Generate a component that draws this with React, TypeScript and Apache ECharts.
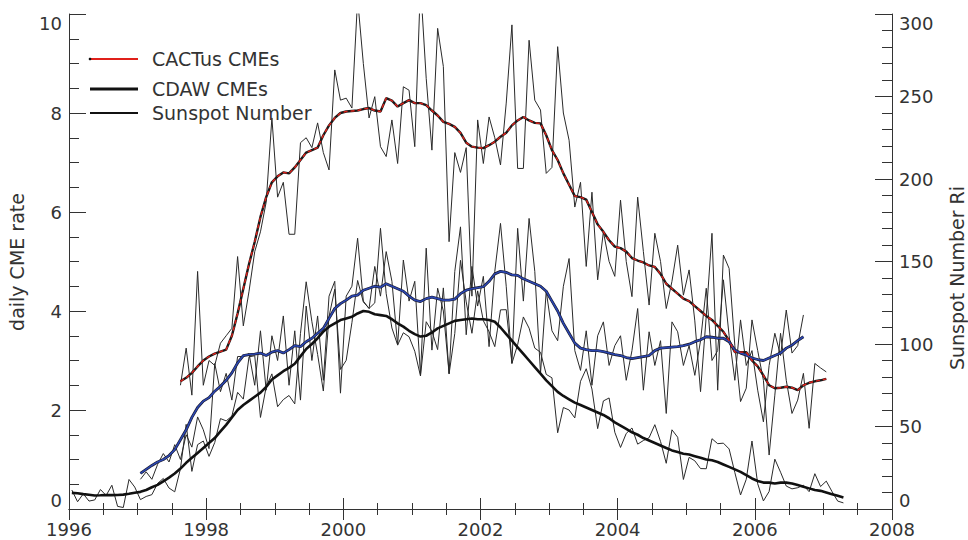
import React, { useEffect, useRef } from "react";
import * as echarts from "echarts";

// ---- Data (monthly values) ----
// Sunspot number Ri, monthly, Jan 1996 .. Apr 2007
const sunspotStart = [1996, 1];
const sunspotMonthly = [
  11.5, 4.4, 9.2, 4.8, 5.5, 11.8, 8.2, 14.4, 1.6, 0.9, 17.9, 13.3,
  5.7, 7.6, 8.7, 15.5, 18.5, 12.7, 10.4, 24.4, 51.3, 22.8, 39.0, 41.2,
  31.9, 40.3, 54.8, 53.4, 56.3, 70.7, 66.6, 92.2, 92.9, 55.5, 74.0, 81.9,
  62.0, 66.3, 68.8, 63.7, 106.4, 137.7, 113.5, 93.7, 71.5, 116.7, 133.2, 84.6,
  90.1, 112.9, 138.5, 125.5, 121.6, 124.9, 170.1, 130.5, 109.7, 99.4, 106.8, 104.4,
  95.6, 80.6, 113.5, 107.7, 96.6, 134.0, 81.8, 106.4, 150.7, 125.5, 106.5, 132.2,
  114.1, 107.4, 98.4, 120.7, 120.8, 88.3, 99.6, 116.4, 109.6, 97.5, 95.0, 81.6,
  79.5, 46.2, 61.5, 60.0, 55.2, 77.4, 85.0, 72.7, 48.7, 65.5, 67.3, 46.5,
  37.3, 45.8, 49.1, 39.3, 41.5, 43.2, 51.1, 40.9, 27.7, 48.0, 43.5, 17.9,
  31.3, 29.2, 24.5, 24.4, 42.6, 39.6, 39.9, 36.4, 22.1, 8.5, 18.0, 41.2,
  15.3, 4.9, 10.6, 30.2, 22.3, 13.9, 12.2, 12.9, 14.4, 10.5, 21.4, 13.6,
  16.9, 10.6, 4.8, 3.7,
];
const sunspotSmoothed = [
  9.8, 9.5, 9.0, 8.6, 8.2, 8.3, 8.5, 8.4, 8.5, 8.7, 9.2, 9.9,
  10.4, 11.5, 13.2, 14.6, 16.8, 19.0, 21.5, 24.5, 28.0, 31.0, 34.0, 37.0,
  40.0, 43.0, 47.0, 51.0, 55.5, 60.0, 63.0, 65.5, 68.0, 70.5, 74.0, 78.5,
  81.0, 83.5, 85.5, 88.0, 92.5, 97.0, 100.0, 103.5, 107.5, 110.5, 112.5, 114.5,
  115.5, 116.5, 118.5, 120.0, 119.5, 118.0, 117.5, 117.0, 115.0, 112.5, 110.5, 108.0,
  106.0, 104.5, 105.0, 107.0, 109.5, 111.0, 112.5, 114.0, 114.5, 115.0, 115.5, 115.0,
  115.0, 114.5, 113.5, 110.0, 106.0, 102.0, 98.0, 94.0, 90.0, 86.0, 82.0, 78.0,
  74.5, 71.0, 68.5, 66.5, 64.5, 63.0, 61.5, 60.0, 58.5, 57.0, 55.0, 52.5,
  50.5, 48.5, 46.5, 45.0, 43.0, 41.5, 40.0, 38.5, 37.0, 35.5, 34.5, 33.5,
  33.0, 32.0, 31.0, 30.0, 29.5, 28.5, 27.0, 25.5, 24.0, 22.5, 20.5, 18.5,
  17.0, 16.0, 16.0, 15.5, 16.0, 16.0, 15.5, 14.5, 13.5, 12.5, 11.5, 11.0,
  10.0, 9.0, 8.0, 7.0,
];

// CACTus daily CME rate, Aug 1997 .. Jan 2007
const cactusStart = [1997, 8];
const cactusMonthly = [
  2.5, 3.25, 2.3, 4.8, 2.5,
  3.0, 2.9, 3.35, 3.5, 3.65, 5.1, 3.7, 4.4, 5.2, 5.6, 6.2, 7.9,
  6.3, 6.6, 5.55, 5.55, 7.4, 7.5, 7.3, 7.8, 7.2, 6.85, 8.87, 8.26,
  8.3, 8.1, 10.3, 9.0, 7.9, 8.33, 7.32, 7.12, 7.86, 6.98, 8.53, 8.46,
  7.32, 10.6, 8.7, 7.25, 9.71, 8.94, 5.4, 7.2, 6.8, 7.3, 4.3, 7.86,
  6.98, 7.92, 7.5, 6.95, 8.2, 9.78, 6.88, 6.88, 9.47, 8.26, 8.06, 6.78,
  6.9, 9.34, 8.0, 7.45, 6.1, 6.6, 4.9, 6.4, 4.63, 5.6, 5.0, 4.7,
  6.24, 5.0, 4.29, 6.3, 5.2, 4.12, 5.57, 5.0, 4.05, 4.6, 5.33, 4.32,
  4.83, 3.8, 2.37, 3.9, 5.57, 2.4, 5.13, 4.86, 3.3, 2.17, 2.44, 3.82,
  3.2, 2.6, 1.09, 2.3, 3.55, 2.6, 1.93, 2.2, 2.74, 1.63, 2.94, 2.85,
  2.77,
];
const cactusSmoothed = [
  2.58, 2.65, 2.75, 2.88, 3.0,
  3.08, 3.14, 3.18, 3.22, 3.5, 3.95, 4.45, 4.95, 5.4, 5.9, 6.3, 6.6,
  6.72, 6.8, 6.78, 6.9, 7.05, 7.2, 7.25, 7.3, 7.55, 7.75, 7.9, 8.0,
  8.03, 8.04, 8.05, 8.08, 8.1, 8.05, 8.03, 8.3, 8.25, 8.13, 8.2, 8.26,
  8.2, 8.2, 8.16, 8.05, 7.95, 7.82, 7.78, 7.72, 7.6, 7.4, 7.32, 7.3,
  7.29, 7.35, 7.42, 7.52, 7.6, 7.75, 7.85, 7.92, 7.85, 7.8, 7.79, 7.55,
  7.25, 7.05, 6.78, 6.55, 6.32, 6.3, 6.25, 6.0, 5.75, 5.6, 5.43, 5.3,
  5.27, 5.2, 5.07, 5.02, 4.98, 4.92, 4.89, 4.75, 4.55, 4.45, 4.35, 4.25,
  4.2, 4.1, 4.0, 3.9, 3.82, 3.7, 3.58, 3.4, 3.17, 3.17, 3.17, 3.0,
  2.88, 2.7, 2.5, 2.44, 2.45, 2.47, 2.45, 2.4, 2.5, 2.55, 2.58, 2.6,
  2.63,
];

// CDAW daily CME rate, Jan 1997 .. Sep 2006
const cdawStart = [1997, 1];
const cdawMonthly = [
  0.6, 0.75, 0.6, 0.9, 1.12, 0.95, 1.3, 1.0, 1.5, 1.25, 1.86, 1.6,
  1.22, 2.94, 2.37, 2.74, 2.2, 3.08, 3.08, 3.14, 2.5, 3.6, 2.4, 3.5,
  3.0, 3.9, 2.5, 3.6, 2.2, 4.1, 3.0, 3.9, 2.6, 4.3, 4.6, 2.34,
  4.3, 4.5, 5.47, 4.2, 4.05, 4.9, 4.3, 5.2, 4.6, 3.31, 5.03, 4.2,
  4.6, 2.71, 5.27, 3.21, 4.46, 4.0, 2.74, 4.8, 5.7, 3.52, 4.9, 4.1,
  4.7, 3.28, 4.8, 5.77, 4.5, 2.94, 5.67, 4.2, 5.87, 4.8, 2.74, 4.4,
  3.6, 3.4, 4.5, 5.06, 3.2, 2.8, 3.6, 2.5, 3.5, 3.78, 2.9, 3.3,
  3.5, 2.6, 3.2, 4.05, 2.4, 3.58, 2.9, 3.4, 1.93, 3.78, 3.58, 2.9,
  3.3, 2.7, 3.4, 4.46, 3.0, 3.2, 4.63, 3.5, 2.6, 3.82, 2.9, 3.2,
  2.4, 1.76, 2.9, 3.55, 3.1, 4.02, 3.15, 3.3, 3.92,
];
const cdawSmoothed = [
  0.72, 0.8, 0.88, 0.95, 1.0, 1.08, 1.2, 1.4, 1.6, 1.85, 2.05, 2.18,
  2.25, 2.38, 2.48, 2.6, 2.75, 2.95, 3.1, 3.12, 3.13, 3.15, 3.1, 3.17,
  3.2, 3.15, 3.22, 3.3, 3.28, 3.38, 3.45, 3.55, 3.65, 3.85, 4.05, 4.15,
  4.22, 4.3, 4.32, 4.42, 4.46, 4.5, 4.48, 4.55, 4.5, 4.45, 4.4, 4.3,
  4.22, 4.19, 4.25, 4.28, 4.25, 4.22, 4.22, 4.24, 4.35, 4.42, 4.45, 4.47,
  4.49, 4.6, 4.75, 4.8, 4.78, 4.73, 4.72, 4.65, 4.6, 4.55, 4.5, 4.4,
  4.2, 4.0, 3.75, 3.55, 3.35, 3.25, 3.22, 3.2, 3.2, 3.18, 3.15, 3.12,
  3.1, 3.06, 3.04, 3.06, 3.08, 3.1, 3.2, 3.25, 3.26, 3.27, 3.28, 3.3,
  3.33, 3.38, 3.42, 3.48, 3.47, 3.45, 3.45, 3.38, 3.21, 3.15, 3.11, 3.05,
  3.02, 3.0, 3.05, 3.1, 3.15, 3.25, 3.31, 3.4, 3.48,
];

const xTicks = [1996, 1998, 2000, 2002, 2004, 2006, 2008];
const legendItems = ["CACTus CMEs", "CDAW CMEs", "Sunspot Number"];

function monthly(start: number[], vals: number[]) {
  return vals.map((v, i) => [start[0] + (start[1] - 1 + i + 0.5) / 12, v]);
}

const FONT = "DejaVu Sans";
const TXT = "#333";
const AX = "#333";

export default function App() {
  const ref = useRef<HTMLDivElement>(null);
  useEffect(() => {
    if (!ref.current) return;
    const chart = echarts.init(ref.current, null, { renderer: "svg" });
    const thin = (name: string, data: any, yIdx: number) => ({
      type: "line", name, data, yAxisIndex: yIdx, showSymbol: false, silent: true,
      lineStyle: { color: "#2a2a2a", width: 1 }, z: 2,
    });
    const xCommon = (pos: string, labels: boolean) => ({
      type: "value", min: xTicks[0], max: xTicks[xTicks.length - 1], interval: 2, position: pos,
      axisLine: { show: true, lineStyle: { color: AX, width: 1 } },
      axisTick: { show: true, inside: true, length: 11, lineStyle: { color: AX } },
      minorTick: { show: true, splitNumber: 4, length: 6, lineStyle: { color: AX } },
      splitLine: { show: false }, minorSplitLine: { show: false },
      axisLabel: { show: labels, margin: 11, fontSize: 18, fontFamily: FONT, color: TXT, formatter: (v: number) => String(v) },
    });
    const yCommon = (pos: string, max: number, interval: number, split: number) => ({
      type: "value", min: 0, max, interval, position: pos,
      axisLine: { show: true, lineStyle: { color: AX, width: 1 } },
      axisTick: { show: true, inside: true, length: 17, lineStyle: { color: AX } },
      minorTick: { show: true, splitNumber: split, length: 10, lineStyle: { color: AX } },
      splitLine: { show: false }, minorSplitLine: { show: false },
      axisLabel: {
        margin: 7, fontSize: 18, fontFamily: FONT, color: TXT,
        verticalAlignMinLabel: "bottom", verticalAlignMaxLabel: "top",
        formatter: (v: number) => String(v),
      },
    });
    const legendY = [59, 89, 113];
    chart.setOption({
      animation: false,
      backgroundColor: "#fff",
      grid: { left: 69, right: 76, top: 14, bottom: 31, containLabel: false },
      xAxis: [xCommon("bottom", true), xCommon("top", false)],
      yAxis: [yCommon("left", 10, 2, 4), yCommon("right", 300, 50, 5)],
      series: [
        thin("Sunspot monthly", monthly(sunspotStart, sunspotMonthly), 1),
        thin("CDAW monthly", monthly(cdawStart, cdawMonthly), 0),
        thin("CACTus monthly", monthly(cactusStart, cactusMonthly), 0),
        {
          type: "line", name: "Sunspot smoothed", data: monthly(sunspotStart, sunspotSmoothed), yAxisIndex: 1,
          showSymbol: false, silent: true, lineStyle: { color: "#111", width: 2.6 }, z: 3,
        },
        {
          type: "line", name: "CDAW smoothed edge", data: monthly(cdawStart, cdawSmoothed), yAxisIndex: 0,
          showSymbol: false, silent: true, lineStyle: { color: "#1a1a2a", width: 2.8 }, z: 4,
        },
        {
          type: "line", name: "CDAW smoothed", data: monthly(cdawStart, cdawSmoothed), yAxisIndex: 0,
          showSymbol: false, silent: true, lineStyle: { color: "#2b46b0", width: 1.6 }, z: 5,
        },
        {
          type: "line", name: "CACTus smoothed edge", data: monthly(cactusStart, cactusSmoothed), yAxisIndex: 0,
          showSymbol: false, silent: true, lineStyle: { color: "#1a1a1a", width: 2.4 }, z: 4,
        },
        {
          type: "line", name: "CACTus smoothed", data: monthly(cactusStart, cactusSmoothed), yAxisIndex: 0,
          showSymbol: false, silent: true, lineStyle: { color: "#e0201a", width: 1.4, type: [4, 3] }, z: 5,
        },
      ],
      graphic: [
        { type: "line", shape: { x1: 90, y1: legendY[0], x2: 138, y2: legendY[0] }, style: { stroke: "#e0201a", lineWidth: 2 }, z: 10 },
        { type: "circle", shape: { cx: 90, cy: legendY[0], r: 1.3 }, style: { fill: "#111" }, z: 11 },
        { type: "line", shape: { x1: 90, y1: legendY[1], x2: 138, y2: legendY[1] }, style: { stroke: "#111", lineWidth: 3 }, z: 10 },
        { type: "line", shape: { x1: 90, y1: legendY[2], x2: 138, y2: legendY[2] }, style: { stroke: "#111", lineWidth: 2 }, z: 10 },
        ...legendItems.map((t, i) => ({
          type: "text", x: 152, y: legendY[i], z: 10,
          style: { text: t, fill: TXT, font: `19px '${FONT}'`, textAlign: "left", textVerticalAlign: "middle" },
        })),
        {
          type: "text", x: 17, y: 262, rotation: Math.PI / 2, z: 10,
          style: { text: "daily CME rate", fill: TXT, font: `19px '${FONT}'`, textAlign: "center", textVerticalAlign: "middle" },
        },
        {
          type: "text", x: 957, y: 278, rotation: Math.PI / 2, z: 10,
          style: { text: "Sunspot Number Ri", fill: TXT, font: `19px '${FONT}'`, textAlign: "center", textVerticalAlign: "middle" },
        },
      ],
    });
    return () => chart.dispose();
  }, []);
  return <div ref={ref} style={{ position: "fixed", left: 0, top: 0, width: 968, height: 540 }} />;
}
